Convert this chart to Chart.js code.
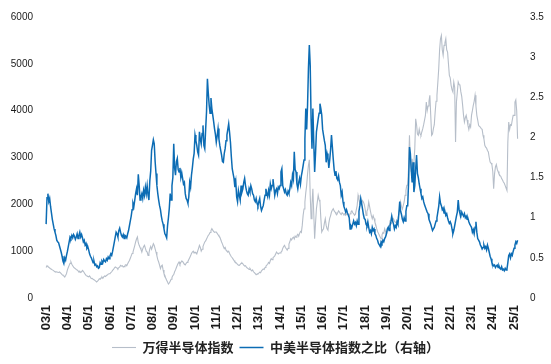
<!DOCTYPE html>
<html>
<head>
<meta charset="utf-8">
<script src="https://cdn.jsdelivr.net/npm/chart.js@4.4.1/dist/chart.umd.min.js"></script>
<style>
  html, body { margin: 0; padding: 0; background: #fff; }
</style>
</head>
<body>
<canvas id="semiChart" width="551" height="364"></canvas>
<script>
// half-month readings, Jan 2003 .. Mar 2025
const START_YEAR = 2003;
const STEPS_PER_YEAR = 24;

const yearTicks = ["03/1", "04/1", "05/1", "06/1", "07/1", "08/1", "09/1", "10/1", "11/1", "12/1", "13/1",
  "14/1", "15/1", "16/1", "17/1", "18/1", "19/1", "20/1", "21/1", "22/1", "23/1", "24/1", "25/1"];

const seriesNames = ["万得半导体指数", "中美半导体指数之比（右轴）"];

// 万得半导体指数 (left axis)
const windSemiIndex = [
  650,690,670,660,640,626,615,600,590,575,560,555,560,550,545,555,540,520,500,484,470,448,480,520,
  600,650,697,740,769,720,690,660,640,626,610,600,580,560,570,545,560,590,570,540,510,484,470,460,
  450,470,440,413,420,400,390,377,360,342,360,380,410,400,430,448,420,450,470,460,480,490,510,519,
  520,540,560,590,610,640,662,650,640,620,650,660,697,680,690,660,670,700,710,690,730,769,800,850,
  900,950,982,1050,1120,1196,1260,1302,1180,1125,1080,1040,982,1050,1100,1125,1060,1000,980,911,960,1050,1100,1040,
  1100,1160,1120,1050,980,900,820,769,700,626,680,700,600,519,480,420,380,340,300,320,360,400,440,480,
  500,560,600,650,700,740,769,720,760,790,780,750,720,705,740,760,780,820,860,900,950,982,1000,960,
  980,960,940,1000,1060,1125,1080,1000,1040,1100,1150,1196,1220,1260,1300,1338,1360,1400,1440,1480,1450,1420,1400,1409,
  1409,1380,1350,1320,1300,1250,1196,1150,1100,1053,1080,1020,1000,980,1000,950,911,880,860,830,800,769,760,740,
  720,700,698,720,740,750,730,700,680,690,660,640,626,610,630,600,580,600,560,540,520,498,510,520,
  530,550,540,580,600,620,610,650,680,700,720,760,740,800,840,820,860,880,900,940,982,960,940,960,
  960,980,1000,1060,1100,1125,1080,1050,1020,1060,1150,1200,1267,1240,1280,1300,1260,1320,1300,1338,1360,1320,1380,1420,
  1400,1550,1765,1900,2050,2250,2406,2650,2833,2950,2192,1693,2000,2334,1800,1267,1600,1907,2050,2192,2100,2050,1700,1409,
  1450,1480,1600,1693,1550,1480,1450,1600,1700,1760,1836,1880,1907,1860,1836,1800,1780,1820,1860,1836,1800,1780,1820,1800,
  1780,1800,1765,1790,1820,1780,1750,1800,1836,1860,1820,1800,1765,1790,1880,1979,2192,2100,2050,1980,2020,2080,2050,2000,
  1900,1765,1850,1900,2050,1950,1850,1760,1693,1760,1700,1620,1560,1480,1420,1380,1338,1300,1267,1350,1400,1380,1480,1420,
  1360,1420,1500,1551,1620,1580,1600,1650,1693,1640,1620,1600,1650,1700,1800,1907,2050,1950,1900,1980,2050,2192,2300,2406,
  2406,2800,3474,2904,2690,2974,2800,2900,3188,3828,3700,3500,3474,3600,3500,3474,3550,3615,3700,3800,3900,4185,4000,4100,
  4200,4327,3900,3474,3500,3615,3700,3971,4200,4327,4600,4895,5300,5536,5607,5300,5181,5394,5450,5536,5300,5252,5000,4754,
  4700,4541,4450,4400,4612,4500,3331,4185,4400,4612,4560,4540,4400,4300,4114,3900,3757,3850,3900,3800,3686,3600,3700,3650,
  3900,4000,4114,4200,4327,4100,3900,3800,3686,3660,3650,3615,3600,3474,3400,3260,3220,3200,3150,3117,3000,2904,2880,2850,
  2700,2334,2650,2800,2850,2750,2700,2650,2620,2600,2550,2520,2477,2450,2400,2350,2299,3331,3758,3600,3700,3687,3800,3900,
  3900,4185,4230,4000,3401,
];

// 中美半导体指数之比 (right axis)
const chinaUsRatio = [
  0.92,1.25,1.30,1.20,1.24,1.14,1.06,0.98,0.92,0.86,0.82,0.78,0.72,0.70,0.69,0.65,0.61,0.57,0.52,0.46,0.43,0.50,0.47,0.53,
  0.58,0.64,0.70,0.76,0.74,0.78,0.75,0.79,0.77,0.73,0.76,0.80,0.74,0.78,0.82,0.76,0.79,0.75,0.70,0.72,0.66,0.68,0.62,0.64,
  0.60,0.55,0.52,0.50,0.47,0.44,0.46,0.41,0.42,0.39,0.40,0.37,0.38,0.44,0.42,0.46,0.44,0.48,0.46,0.45,0.49,0.47,0.51,0.49,
  0.52,0.55,0.53,0.58,0.64,0.70,0.76,0.82,0.80,0.76,0.84,0.87,0.82,0.78,0.76,0.79,0.74,0.78,0.77,0.75,0.80,0.84,0.90,0.96,
  1.02,1.10,1.18,1.14,1.22,1.30,1.36,1.28,1.54,1.40,1.22,1.26,1.30,1.24,1.34,1.28,1.38,1.30,1.40,1.28,1.22,1.46,1.58,1.84,
  1.90,1.97,1.92,1.70,1.55,1.40,1.30,1.22,1.15,1.10,1.02,0.96,0.92,0.86,0.80,0.78,0.75,0.90,1.00,1.12,1.30,1.22,1.40,1.50,
  1.92,1.62,1.53,1.70,1.74,1.60,1.57,1.62,1.50,1.56,1.49,1.42,1.44,1.30,1.24,1.22,1.18,1.26,1.44,1.38,1.53,1.62,1.73,1.80,
  2.03,1.96,1.90,1.82,1.78,2.07,1.98,1.92,2.05,2.15,1.90,1.86,2.10,2.32,2.73,2.55,2.40,2.30,2.49,2.36,2.28,2.20,2.11,2.04,
  1.94,2.02,2.11,1.98,1.90,1.84,1.78,1.70,1.69,1.80,1.86,1.96,2.03,2.10,2.17,2.06,1.94,1.76,1.61,1.55,1.49,1.38,1.45,1.26,
  1.20,1.34,1.28,1.22,1.40,1.32,1.36,1.44,1.49,1.40,1.34,1.30,1.28,1.36,1.32,1.40,1.36,1.30,1.28,1.22,1.20,1.24,1.18,1.15,
  1.20,1.24,1.14,1.09,1.12,1.15,1.22,1.28,1.36,1.30,1.26,1.34,1.28,1.42,1.36,1.40,1.48,1.38,1.28,1.34,1.36,1.30,1.38,1.36,
  1.40,1.57,1.61,1.40,1.36,1.32,1.35,1.30,1.28,1.33,1.30,1.36,1.44,1.40,1.53,1.48,1.82,1.60,1.57,1.42,1.36,1.44,1.49,1.42,
  1.52,1.58,1.65,1.72,1.98,2.36,2.10,2.40,2.86,3.15,2.90,2.23,1.86,2.36,1.94,1.57,1.80,2.07,2.15,2.23,2.30,2.42,2.36,2.28,
  2.10,2.03,1.96,1.90,1.69,1.80,1.75,1.62,1.72,1.85,2.03,1.88,1.73,1.60,1.53,1.58,1.49,1.47,1.52,1.44,1.40,1.28,1.32,1.20,
  1.14,1.11,1.07,1.10,1.06,1.03,1.00,0.86,0.90,0.88,0.92,0.96,0.92,0.94,0.90,0.96,0.92,1.08,1.15,1.24,1.18,1.11,1.04,0.99,
  0.98,0.92,0.90,0.95,0.88,0.82,0.84,0.80,0.88,0.84,0.86,0.80,0.78,0.74,0.72,0.68,0.66,0.64,0.70,0.68,0.72,0.70,0.74,0.76,
  0.80,0.86,0.88,0.84,0.90,0.95,1.02,0.96,0.92,0.86,0.90,0.88,0.95,0.92,1.05,1.20,1.08,1.04,0.98,0.95,1.00,0.96,1.08,1.15,
  1.15,1.44,1.88,1.80,1.60,1.44,1.69,1.32,1.40,1.61,1.78,1.55,1.50,1.42,1.36,1.30,1.24,1.26,1.20,1.16,1.13,1.10,1.07,1.05,
  0.98,0.95,0.92,0.88,0.84,0.86,0.88,0.92,0.96,1.00,1.07,1.14,1.26,1.18,1.15,1.10,1.12,1.06,1.08,1.03,1.05,1.00,0.96,0.93,
  0.95,0.92,0.86,0.80,0.84,0.90,0.96,1.02,1.07,1.22,1.10,1.05,1.02,1.07,1.04,1.02,1.05,1.00,1.02,0.98,0.99,0.95,0.92,0.90,
  0.88,0.82,0.85,0.80,0.88,0.95,0.82,0.74,0.72,0.70,0.66,0.64,0.61,0.63,0.66,0.62,0.64,0.60,0.66,0.62,0.57,0.52,0.49,0.44,
  0.42,0.40,0.41,0.38,0.40,0.41,0.38,0.40,0.37,0.36,0.39,0.35,0.36,0.34,0.37,0.35,0.36,0.44,0.53,0.55,0.50,0.55,0.53,0.58,
  0.62,0.66,0.70,0.68,0.72,
];

const toPoints = (values) => values.map((v, i) => ({ x: START_YEAR + i / STEPS_PER_YEAR, y: v }));

const TICK_COLOR = "#1a1a1a";
const GRAY_LINE = "#b6bec9";
const BLUE_LINE = "#0c6cb4";

const ctx = document.getElementById("semiChart").getContext("2d");

new Chart(ctx, {
  type: "line",
  data: {
    datasets: [
      {
        label: seriesNames[0],
        data: toPoints(windSemiIndex),
        borderColor: GRAY_LINE,
        backgroundColor: GRAY_LINE,
        borderWidth: 1.1,
        pointRadius: 0,
        tension: 0,
        yAxisID: "y",
        order: 1,
      },
      {
        label: seriesNames[1],
        data: toPoints(chinaUsRatio),
        borderColor: BLUE_LINE,
        backgroundColor: BLUE_LINE,
        borderWidth: 1.5,
        pointRadius: 0,
        tension: 0,
        yAxisID: "y1",
        order: 0,
      },
    ],
  },
  options: {
    responsive: false,
    animation: false,
    layout: { padding: { top: 15, right: 0, bottom: 0, left: 0 } },
    plugins: {
      tooltip: { enabled: false },
      legend: {
        position: "bottom",
        labels: {
          usePointStyle: true,
          pointStyle: "line",
          pointStyleWidth: 24,
          padding: 6,
          color: "#222",
          font: { family: "'Noto Sans CJK SC'", size: 13, weight: "bold" },
          sort: (a, b) => a.datasetIndex - b.datasetIndex,
        },
      },
    },
    scales: {
      x: {
        type: "linear",
        min: 2002.9,
        max: 2025.28,
        grid: { display: false, drawTicks: false },
        border: { display: false },
        afterBuildTicks: (axis) => {
          axis.ticks = yearTicks.map((_, i) => ({ value: START_YEAR + i }));
        },
        afterFit: (axis) => { axis.height = 37; },
        ticks: {
          autoSkip: false,
          minRotation: 90,
          maxRotation: 90,
          padding: 7,
          color: TICK_COLOR,
          font: { family: "'Liberation Sans'", size: 13, weight: "bold" },
          callback: (v, i) => yearTicks[i],
        },
      },
      y: {
        position: "left",
        min: 0,
        max: 6000,
        grid: { display: false, drawTicks: false },
        border: { display: false },
        afterFit: (axis) => { axis.width = 44; },
        ticks: {
          stepSize: 1000,
          padding: 11,
          color: TICK_COLOR,
          font: { family: "'Liberation Sans'", size: 10 },
          callback: (v) => String(v),
        },
      },
      y1: {
        position: "right",
        min: 0,
        max: 3.5,
        grid: { display: false, drawTicks: false },
        border: { display: false },
        afterFit: (axis) => { axis.width = 31; },
        ticks: {
          stepSize: 0.5,
          padding: 10,
          color: TICK_COLOR,
          font: { family: "'Liberation Sans'", size: 10 },
          callback: (v) => String(v),
        },
      },
    },
  },
});
</script>
</body>
</html>
